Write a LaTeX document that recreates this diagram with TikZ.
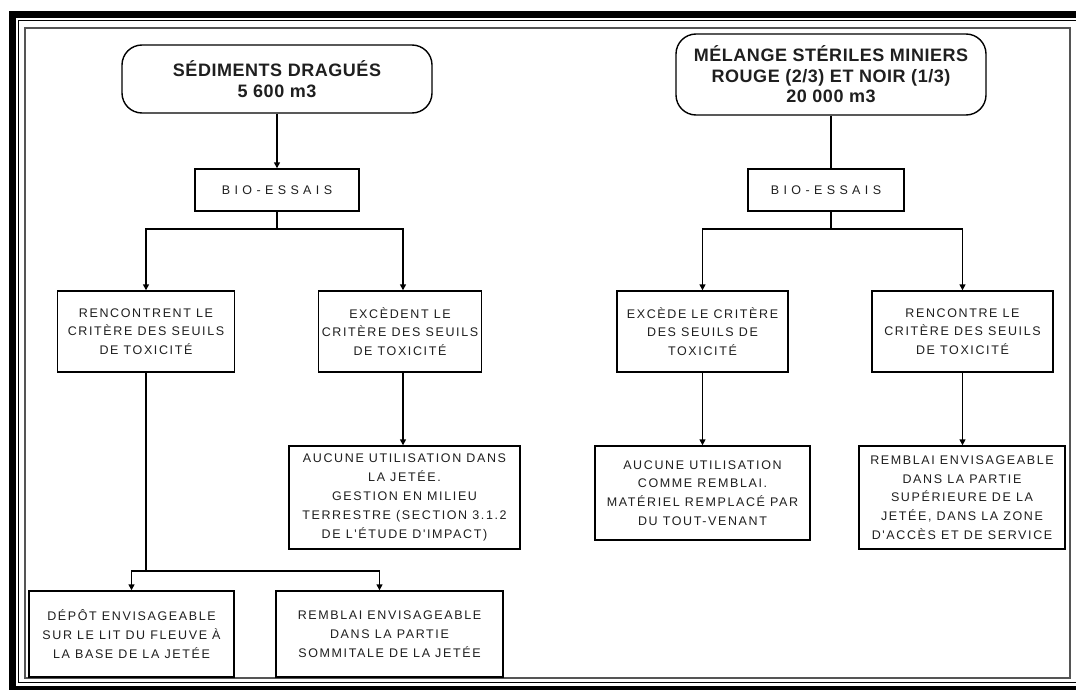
\documentclass[tikz,border=0pt]{standalone}
\usepackage{fontspec}
\setmainfont{Liberation Sans}
\newfontfamily\smallf[LetterSpace=13]{Liberation Sans}
\newfontfamily\biof[LetterSpace=35]{Liberation Sans}
\newfontfamily\titlef[LetterSpace=3]{Liberation Sans}
\usetikzlibrary{arrows.meta}
\definecolor{txt}{HTML}{1f1f1f}
\definecolor{framegray}{HTML}{555555}
\begin{document}
\begin{tikzpicture}[x=1pt,y=-1pt,
  box/.style={draw=black, line width=1.4pt, fill=white, inner sep=0pt, align=center, text=txt,
    font=\smallf\fontsize{12.5}{18.8}\selectfont},
  biobox/.style={box, font=\biof\fontsize{12.5}{18.8}\selectfont},
  titlebox/.style={draw=black, line width=1.4pt, fill=white, inner sep=0pt, align=center, text=txt,
    rounded corners=20pt, font=\titlef\bfseries\fontsize{18}{20.5}\selectfont},
  ln/.style={line width=1.4pt, black},
  arr/.style={ln, -{Triangle[length=6pt,width=6pt]}}
]
\useasboundingbox (0,0) rectangle (1076,690);
% frame
\fill[black] (9,11) rectangle (16,690);
\fill[black] (9,11) rectangle (1076,18);
\fill[black] (9,686) rectangle (1076,690);
\draw[black, line width=1.2pt] (1076,20.5) -- (18.5,20.5) -- (18.5,682.5) -- (1076,682.5);
\draw[framegray, line width=2.2pt] (25,28) rectangle (1070,678);

% left tree
\node[titlebox, minimum width=310pt, minimum height=68pt] (t1) at (277,79) {SÉDIMENTS DRAGUÉS\\5 600 m3};
\node[biobox, minimum width=164pt, minimum height=42pt] (b1) at (277,190) {BIO-ESSAIS};
\node[box, minimum width=177pt, minimum height=81pt] (r1) at (146,331.5) {RENCONTRENT LE\\CRITÈRE DES SEUILS\\DE TOXICITÉ};
\node[box, minimum width=163pt, minimum height=81pt] (r2) at (400,331.5) {EXCÈDENT LE\\CRITÈRE DES SEUILS\\DE TOXICITÉ};
\node[box, minimum width=231pt, minimum height=103pt] (a2) at (404.5,497.5) {AUCUNE UTILISATION DANS\\LA JETÉE.\\GESTION EN MILIEU\\TERRESTRE (SECTION 3.1.2\\DE L'ÉTUDE D'IMPACT)};
\node[box, minimum width=205pt, minimum height=86pt] (d1) at (131.5,634) {DÉPÔT ENVISAGEABLE\\SUR LE LIT DU FLEUVE À\\LA BASE DE LA JETÉE};
\node[box, minimum width=227pt, minimum height=86pt] (d2) at (389.5,634) {REMBLAI ENVISAGEABLE\\DANS LA PARTIE\\SOMMITALE DE LA JETÉE};

% right tree
\node[titlebox, minimum width=310pt, minimum height=81pt] (t2) at (831,74.5) {MÉLANGE STÉRILES MINIERS\\ROUGE (2/3) ET NOIR (1/3)\\20 000 m3};
\node[biobox, minimum width=156pt, minimum height=42pt] (b2) at (826,190) {BIO-ESSAIS};
\node[box, minimum width=171pt, minimum height=81pt] (r3) at (702.5,331.5) {EXCÈDE LE CRITÈRE\\DES SEUILS DE\\TOXICITÉ};
\node[box, minimum width=181pt, minimum height=81pt] (r4) at (962.5,331.5) {RENCONTRE LE\\CRITÈRE DES SEUILS\\DE TOXICITÉ};
\node[box, minimum width=215pt, minimum height=94pt] (a3) at (702.5,493) {AUCUNE UTILISATION\\COMME REMBLAI.\\MATÉRIEL REMPLACÉ PAR\\DU TOUT-VENANT};
\node[box, minimum width=206pt, minimum height=103pt] (a4) at (962,497.5) {REMBLAI ENVISAGEABLE\\DANS LA PARTIE\\SUPÉRIEURE DE LA\\JETÉE, DANS LA ZONE\\D'ACCÈS ET DE SERVICE};

% junctions
\coordinate (jb1) at (277,229);
\coordinate (jb2) at (831,229);
\coordinate (jd) at (146,571);

% connectors left
\draw[arr] (t1.south) -- (b1.north);
\draw[ln] (b1.south) -- (jb1);
\draw[arr] (jb1) -| (r1.north);
\draw[arr] (jb1) -| ([xshift=3pt]r2.north);
\draw[arr] ([xshift=3pt]r2.south) -- ([xshift=3pt]r2.south |- a2.north);
\draw[ln] (r1.south) -- (jd);
\draw[arr] (jd) -| (d1.north);
\draw[arr] (jd) -| ([xshift=-10pt]d2.north);

% connectors right
\draw[ln] (t2.south) -- (t2.south |- b2.north);
\draw[ln] (t2.south |- b2.south) -- (jb2);
\draw[arr] (jb2) -| (r3.north);
\draw[arr] (jb2) -| (r4.north);
\draw[arr] (r3.south) -- (r3.south |- a3.north);
\draw[arr] (r4.south) -- (r4.south |- a4.north);
\end{tikzpicture}
\end{document}
